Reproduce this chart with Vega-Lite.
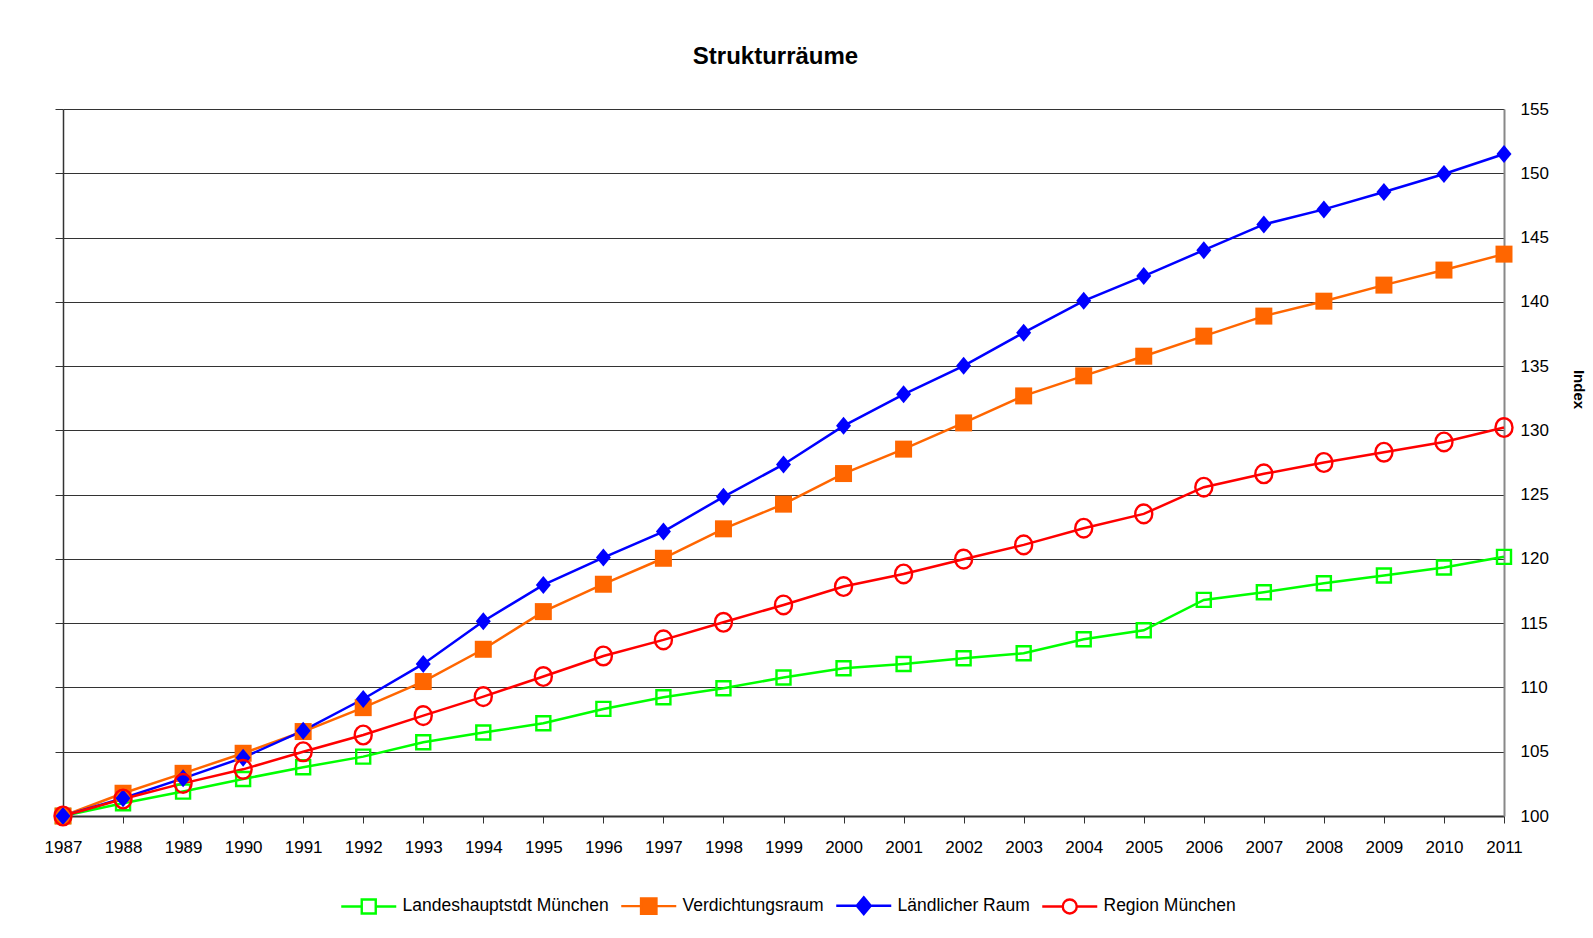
{
  "$schema": "https://vega.github.io/schema/vega-lite/v6.json",
  "width": 1441,
  "height": 707,
  "autosize": {"type": "none"},
  "padding": {"left": 63, "top": 109, "right": 89, "bottom": 122},
  "background": "white",
  "title": {
    "text": "Strukturräume",
    "font": "Liberation Sans",
    "fontSize": 24,
    "fontWeight": "bold",
    "color": "#000000",
    "anchor": "middle",
    "offset": 31,
    "dx": -8
  },
  "config": {
    "view": {"stroke": null},
    "font": "Liberation Sans",
    "axis": {
      "labelFont": "Liberation Sans",
      "labelFontSize": 17,
      "labelColor": "#000000",
      "titleFont": "Liberation Sans",
      "domainColor": "#333333",
      "tickColor": "#333333"
    },
    "legend": {
      "labelFont": "Liberation Sans",
      "labelFontSize": 17.5,
      "labelColor": "#000000",
      "labelLimit": 500
    }
  },
  "data": {
    "values": [
      {"year": 1987, "series": "Landeshauptstdt München", "value": 100},
      {"year": 1988, "series": "Landeshauptstdt München", "value": 100.99},
      {"year": 1989, "series": "Landeshauptstdt München", "value": 101.9},
      {"year": 1990, "series": "Landeshauptstdt München", "value": 102.88},
      {"year": 1991, "series": "Landeshauptstdt München", "value": 103.79},
      {"year": 1992, "series": "Landeshauptstdt München", "value": 104.62},
      {"year": 1993, "series": "Landeshauptstdt München", "value": 105.74},
      {"year": 1994, "series": "Landeshauptstdt München", "value": 106.49},
      {"year": 1995, "series": "Landeshauptstdt München", "value": 107.21},
      {"year": 1996, "series": "Landeshauptstdt München", "value": 108.33},
      {"year": 1997, "series": "Landeshauptstdt München", "value": 109.24},
      {"year": 1998, "series": "Landeshauptstdt München", "value": 109.94},
      {"year": 1999, "series": "Landeshauptstdt München", "value": 110.77},
      {"year": 2000, "series": "Landeshauptstdt München", "value": 111.49},
      {"year": 2001, "series": "Landeshauptstdt München", "value": 111.83},
      {"year": 2002, "series": "Landeshauptstdt München", "value": 112.27},
      {"year": 2003, "series": "Landeshauptstdt München", "value": 112.66},
      {"year": 2004, "series": "Landeshauptstdt München", "value": 113.75},
      {"year": 2005, "series": "Landeshauptstdt München", "value": 114.45},
      {"year": 2006, "series": "Landeshauptstdt München", "value": 116.81},
      {"year": 2007, "series": "Landeshauptstdt München", "value": 117.41},
      {"year": 2008, "series": "Landeshauptstdt München", "value": 118.11},
      {"year": 2009, "series": "Landeshauptstdt München", "value": 118.71},
      {"year": 2010, "series": "Landeshauptstdt München", "value": 119.33},
      {"year": 2011, "series": "Landeshauptstdt München", "value": 120.16},
      {"year": 1987, "series": "Verdichtungsraum", "value": 100},
      {"year": 1988, "series": "Verdichtungsraum", "value": 101.77},
      {"year": 1989, "series": "Verdichtungsraum", "value": 103.32},
      {"year": 1990, "series": "Verdichtungsraum", "value": 104.88},
      {"year": 1991, "series": "Verdichtungsraum", "value": 106.57},
      {"year": 1992, "series": "Verdichtungsraum", "value": 108.43},
      {"year": 1993, "series": "Verdichtungsraum", "value": 110.46},
      {"year": 1994, "series": "Verdichtungsraum", "value": 112.97},
      {"year": 1995, "series": "Verdichtungsraum", "value": 115.9},
      {"year": 1996, "series": "Verdichtungsraum", "value": 118.03},
      {"year": 1997, "series": "Verdichtungsraum", "value": 120.05},
      {"year": 1998, "series": "Verdichtungsraum", "value": 122.34},
      {"year": 1999, "series": "Verdichtungsraum", "value": 124.26},
      {"year": 2000, "series": "Verdichtungsraum", "value": 126.64},
      {"year": 2001, "series": "Verdichtungsraum", "value": 128.54},
      {"year": 2002, "series": "Verdichtungsraum", "value": 130.58},
      {"year": 2003, "series": "Verdichtungsraum", "value": 132.68},
      {"year": 2004, "series": "Verdichtungsraum", "value": 134.24},
      {"year": 2005, "series": "Verdichtungsraum", "value": 135.77},
      {"year": 2006, "series": "Verdichtungsraum", "value": 137.33},
      {"year": 2007, "series": "Verdichtungsraum", "value": 138.89},
      {"year": 2008, "series": "Verdichtungsraum", "value": 140.05},
      {"year": 2009, "series": "Verdichtungsraum", "value": 141.3},
      {"year": 2010, "series": "Verdichtungsraum", "value": 142.47},
      {"year": 2011, "series": "Verdichtungsraum", "value": 143.71},
      {"year": 1987, "series": "Ländlicher Raum", "value": 100},
      {"year": 1988, "series": "Ländlicher Raum", "value": 101.38},
      {"year": 1989, "series": "Ländlicher Raum", "value": 102.93},
      {"year": 1990, "series": "Ländlicher Raum", "value": 104.54},
      {"year": 1991, "series": "Ländlicher Raum", "value": 106.64},
      {"year": 1992, "series": "Ländlicher Raum", "value": 109.1},
      {"year": 1993, "series": "Ländlicher Raum", "value": 111.83},
      {"year": 1994, "series": "Ländlicher Raum", "value": 115.15},
      {"year": 1995, "series": "Ländlicher Raum", "value": 117.98},
      {"year": 1996, "series": "Ländlicher Raum", "value": 120.1},
      {"year": 1997, "series": "Ländlicher Raum", "value": 122.13},
      {"year": 1998, "series": "Ländlicher Raum", "value": 124.83},
      {"year": 1999, "series": "Ländlicher Raum", "value": 127.35},
      {"year": 2000, "series": "Ländlicher Raum", "value": 130.35},
      {"year": 2001, "series": "Ländlicher Raum", "value": 132.8},
      {"year": 2002, "series": "Ländlicher Raum", "value": 135.02},
      {"year": 2003, "series": "Ländlicher Raum", "value": 137.6},
      {"year": 2004, "series": "Ländlicher Raum", "value": 140.08},
      {"year": 2005, "series": "Ländlicher Raum", "value": 142.0},
      {"year": 2006, "series": "Ländlicher Raum", "value": 144.02},
      {"year": 2007, "series": "Ländlicher Raum", "value": 146.02},
      {"year": 2008, "series": "Ländlicher Raum", "value": 147.19},
      {"year": 2009, "series": "Ländlicher Raum", "value": 148.54},
      {"year": 2010, "series": "Ländlicher Raum", "value": 149.94},
      {"year": 2011, "series": "Ländlicher Raum", "value": 151.5},
      {"year": 1987, "series": "Region München", "value": 100},
      {"year": 1988, "series": "Region München", "value": 101.32},
      {"year": 1989, "series": "Region München", "value": 102.54},
      {"year": 1990, "series": "Region München", "value": 103.63},
      {"year": 1991, "series": "Region München", "value": 105.0},
      {"year": 1992, "series": "Region München", "value": 106.3},
      {"year": 1993, "series": "Region München", "value": 107.81},
      {"year": 1994, "series": "Region München", "value": 109.29},
      {"year": 1995, "series": "Region München", "value": 110.85},
      {"year": 1996, "series": "Region München", "value": 112.45},
      {"year": 1997, "series": "Region München", "value": 113.7},
      {"year": 1998, "series": "Region München", "value": 115.07},
      {"year": 1999, "series": "Region München", "value": 116.42},
      {"year": 2000, "series": "Region München", "value": 117.85},
      {"year": 2001, "series": "Region München", "value": 118.83},
      {"year": 2002, "series": "Region München", "value": 119.98},
      {"year": 2003, "series": "Region München", "value": 121.09},
      {"year": 2004, "series": "Region München", "value": 122.39},
      {"year": 2005, "series": "Region München", "value": 123.5},
      {"year": 2006, "series": "Region München", "value": 125.58},
      {"year": 2007, "series": "Region München", "value": 126.62},
      {"year": 2008, "series": "Region München", "value": 127.5},
      {"year": 2009, "series": "Region München", "value": 128.3},
      {"year": 2010, "series": "Region München", "value": 129.1},
      {"year": 2011, "series": "Region München", "value": 130.22}
    ]
  },
  "resolve": {"axis": {"y": "independent"}},
  "layer": [
    {
      "mark": {"type": "line", "strokeWidth": 2.5},
      "encoding": {
        "x": {
          "field": "year", "type": "quantitative",
          "scale": {"domain": [1987, 2011], "nice": false, "zero": false},
          "axis": {
            "title": null,
            "values": [1987,1988,1989,1990,1991,1992,1993,1994,1995,1996,1997,1998,1999,2000,2001,2002,2003,2004,2005,2006,2007,2008,2009,2010,2011],
            "format": "d",
            "grid": false,
            "domainColor": "#333333",
            "domainWidth": 2,
            "tickSize": 7,
            "tickColor": "#333333",
            "labelPadding": 16,
            "labelFlush": false,
            "labelOverlap": false
          }
        },
        "y": {
          "field": "value", "type": "quantitative",
          "scale": {"domain": [100, 155], "nice": false, "zero": false},
          "axis": {
            "orient": "left",
            "title": null,
            "labels": false,
            "values": [100,105,110,115,120,125,130,135,140,145,150,155],
            "grid": true,
            "gridColor": "#333333",
            "gridWidth": 1.2,
            "domainColor": "#333333",
            "domainWidth": 1.5,
            "tickSize": 8,
            "tickColor": "#333333"
          }
        },
        "color": {
          "field": "series", "type": "nominal",
          "scale": {
            "domain": ["Region München", "Ländlicher Raum", "Verdichtungsraum", "Landeshauptstdt München"],
            "range": ["#ff0000", "#0000ff", "#ff6600", "#00ff00"]
          },
          "legend": null
        },
        "order": {"field": "year", "type": "quantitative"}
      }
    },
    {
      "transform": [{"filter": "datum.series === 'Landeshauptstdt München'"}],
      "mark": {"type": "point", "shape": "square", "size": 196, "filled": false, "color": "#00ff00", "strokeWidth": 2.4, "opacity": 1},
      "encoding": {
        "x": {"field": "year", "type": "quantitative"},
        "y": {
          "field": "value", "type": "quantitative",
          "axis": {
            "orient": "right",
            "title": "Index",
            "titleFont": "Liberation Sans",
            "titleFontSize": 15,
            "titleFontWeight": "bold",
            "titleColor": "#000000",
            "titlePadding": 22,
            "titleY": 280,
            "values": [100,105,110,115,120,125,130,135,140,145,150,155],
            "grid": false,
            "ticks": false,
            "labelPadding": 16,
            "domainColor": "#888888",
            "domainWidth": 2
          }
        }
      }
    },
    {
      "transform": [{"filter": "datum.series === 'Verdichtungsraum'"}],
      "mark": {"type": "point", "shape": "square", "size": 289, "filled": true, "color": "#ff6600", "opacity": 1},
      "encoding": {
        "x": {"field": "year", "type": "quantitative"},
        "y": {"field": "value", "type": "quantitative", "axis": null}
      }
    },
    {
      "transform": [{"filter": "datum.series === 'Ländlicher Raum'"}],
      "mark": {"type": "point", "shape": "M0,-1.2L1,0L0,1.2L-1,0Z", "size": 225, "filled": true, "color": "#0000ff", "opacity": 1},
      "encoding": {
        "x": {"field": "year", "type": "quantitative"},
        "y": {"field": "value", "type": "quantitative", "axis": null}
      }
    },
    {
      "transform": [{"filter": "datum.series === 'Region München'"}],
      "mark": {"type": "point", "shape": "M0,-1.1A1,1.1,0,1,1,0,1.1A1,1.1,0,1,1,0,-1.1Z", "size": 289, "filled": false, "color": "#ff0000", "strokeWidth": 2.4, "opacity": 1},
      "encoding": {
        "x": {"field": "year", "type": "quantitative"},
        "y": {"field": "value", "type": "quantitative", "axis": null}
      }
    },
    {
      "mark": {"type": "point", "opacity": 0, "size": 196, "strokeWidth": 2.4},
      "encoding": {
        "x": {"field": "year", "type": "quantitative"},
        "y": {"field": "value", "type": "quantitative", "axis": null},
        "stroke": {
          "field": "series", "type": "nominal",
          "scale": {
            "domain": ["Landeshauptstdt München", "Verdichtungsraum", "Ländlicher Raum", "Region München"],
            "range": ["#00ff00", "#ff6600", "#0000ff", "#ff0000"]
          },
          "legend": {
            "orient": "none",
            "legendX": 297,
            "legendY": 788,
            "direction": "horizontal",
            "title": null,
            "symbolSize": 196,
            "symbolStrokeWidth": 2.4,
            "symbolOpacity": 1,
            "labelOffset": 25,
            "labelLimit": 500,
            "columnPadding": 7,
            "padding": 0
          }
        },
        "fill": {
          "field": "series", "type": "nominal",
          "scale": {
            "domain": ["Landeshauptstdt München", "Verdichtungsraum", "Ländlicher Raum", "Region München"],
            "range": ["white", "#ff6600", "#0000ff", "white"]
          },
          "legend": {
            "orient": "none",
            "legendX": 297,
            "legendY": 788,
            "direction": "horizontal",
            "title": null,
            "symbolSize": 196,
            "symbolStrokeWidth": 2.4,
            "symbolOpacity": 1,
            "labelOffset": 25,
            "labelLimit": 500,
            "columnPadding": 7,
            "padding": 0
          }
        },
        "shape": {
          "field": "series", "type": "nominal",
          "scale": {
            "domain": ["Landeshauptstdt München", "Verdichtungsraum", "Ländlicher Raum", "Region München"],
            "range": [
              "M-3.93,0H-1M1,0H3.93M-1,-1H1V1H-1Z",
              "M-3.93,0H-1.1M1.1,0H3.93M-1.1,-1.1H1.1V1.1H-1.1Z",
              "M-3.93,0H-1M1,0H3.93M0,-1.2L1,0L0,1.2L-1,0Z",
              "M-3.93,0H-1M1,0H3.93M-1,0A1,1,0,1,0,1,0A1,1,0,1,0,-1,0Z"
            ]
          },
          "legend": {
            "orient": "none",
            "legendX": 297,
            "legendY": 788,
            "direction": "horizontal",
            "title": null,
            "symbolSize": 196,
            "symbolStrokeWidth": 2.4,
            "symbolOpacity": 1,
            "labelOffset": 25,
            "labelLimit": 500,
            "columnPadding": 7,
            "padding": 0
          }
        }
      }
    }
  ]
}
